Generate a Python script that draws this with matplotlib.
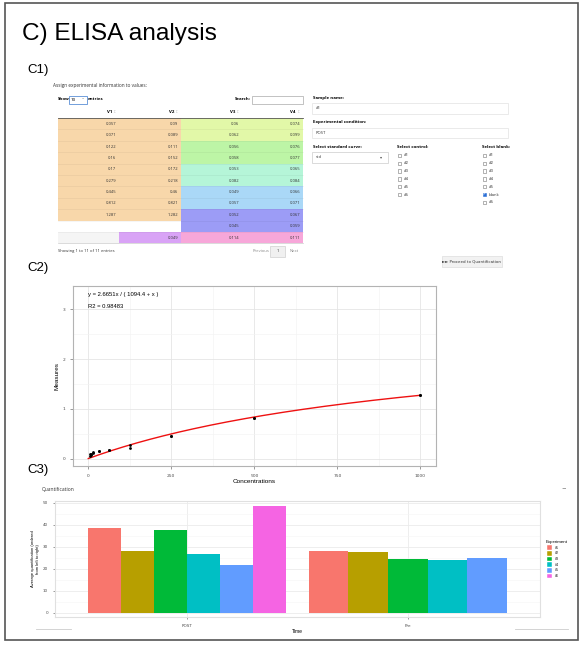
import numpy as np
import matplotlib
matplotlib.use('Agg')
import matplotlib.pyplot as plt
from matplotlib.patches import Rectangle

# ---- data ----
# C1 table (rows of the plate), None = empty cell
v1 = [0.057, 0.071, 0.122, 0.16, 0.17, 0.279, 0.445, 0.812, 1.287, None, None]
v2 = [0.09, 0.089, 0.111, 0.152, 0.172, 0.218, 0.46, 0.821, 1.282, None, 0.049]
v3 = [0.06, 0.062, 0.056, 0.058, 0.053, 0.082, 0.049, 0.057, 0.052, 0.045, 0.114]
v4 = [0.074, 0.099, 0.076, 0.077, 0.065, 0.084, 0.066, 0.071, 0.067, 0.059, 0.111]
controls = ['#1', '#2', '#3', '#4', '#5', '#6']
blanks = ['#1', '#2', '#3', '#4', '#5', 'blank', '#6']

# C2 standard curve
concentrations = [3.9, 7.8, 15.6, 31.25, 62.5, 125, 250, 500, 1000]
fit_a, fit_b = 2.6651, 1094.4
r2 = 0.98483

# C3 quantification
times = ['POST', 'Pre']
experiments = ['#1', '#2', '#3', '#4', '#5', '#6']
post_vals = [38.5, 27.9, 37.4, 26.8, 21.8, 48.3]
pre_vals = [28.2, 27.7, 24.5, 24.1, 24.8]
exp_colors = ['#F8766D', '#B79F00', '#00BA38', '#00BFC4', '#619CFF', '#F564E3']

W, H = 584, 645
fig = plt.figure(figsize=(W / 100, H / 100), dpi=100)
bg = fig.add_axes([0, 0, 1, 1])
bg.set_xlim(0, W)
bg.set_ylim(H, 0)
bg.axis('off')

def frac(x0, y0, x1, y1):
    return [x0 / W, 1 - y1 / H, (x1 - x0) / W, (y1 - y0) / H]

ui = 'Open Sans'
gg = 'Liberation Sans'

# outer frame + headings
bg.add_patch(Rectangle((5, 3), 573, 637, fill=False, ec='#555555', lw=1.2))
bg.text(22, 34, 'C) ELISA analysis', fontsize=17.6, family=gg, va='center')
bg.text(27, 70, 'C1)', fontsize=9.5, family=gg, va='center')
bg.text(27, 268, 'C2)', fontsize=9.5, family=gg, va='center')
bg.text(27, 470, 'C3)', fontsize=9.5, family=gg, va='center')

# ---- C1: table ----
bg.text(53, 85, 'Assign experimental information to values:', fontsize=3.4, family=ui, va='center', color='#333333')
bg.text(58, 99.5, 'Show', fontsize=3.2, family=ui, weight='bold', va='center')
bg.add_patch(Rectangle((69, 96), 18, 8, fill=False, ec='#5b8fd6', lw=0.6))
bg.text(71, 100, '10', fontsize=3.2, family=ui, va='center')
bg.text(82, 100, '\u02c5', fontsize=3.2, family='DejaVu Sans', va='center', color='#555555')
bg.text(88, 99.5, 'entries', fontsize=3.2, family=ui, weight='bold', va='center')
bg.text(251, 99.5, 'Search:', fontsize=3.2, family=ui, weight='bold', va='center', ha='right')
bg.add_patch(Rectangle((252, 96), 51, 8, fill=False, ec='#aaaaaa', lw=0.5))

col_x = [58, 119, 181, 242, 303]
row_top, row_h = 118, 11.4
bg.plot([58, 303], [117.5, 117.5], color='#555555', lw=0.6)
for j, name in enumerate(['V1', 'V2', 'V3', 'V4']):
    bg.text(col_x[j + 1] - 7, 112, name, fontsize=3.2, family=ui, weight='bold', va='center', ha='right')
    bg.text(col_x[j + 1] - 3, 112, '\u2195', fontsize=3.2, family='DejaVu Sans', va='center', ha='right', color='#cccccc')

peach = '#F8D7AA'
right_cols = ['#E2F8A8', '#E2F8A8', '#BDF5A6', '#BDF5A6', '#B5F5D8', '#B5F5D8',
              '#AAD8F7', '#AAD8F7', '#9C9CF6', '#9C9CF6', '#F7A7D9']
columns = [v1, v2, v3, v4]
for i in range(len(v1)):
    y0 = row_top + i * row_h
    for j, col in enumerate(columns):
        val = col[i]
        if j < 2:
            if val is not None and i < 9:
                fc = peach
            elif i == 10 and j == 0:
                fc = '#F5F5F5'
            elif i == 10 and j == 1:
                fc = '#D9A3F6'
            else:
                fc = 'white'
        else:
            fc = right_cols[i]
        bg.add_patch(Rectangle((col_x[j], y0), col_x[j + 1] - col_x[j], row_h, fc=fc, ec='none'))
        if val is not None:
            bg.text(col_x[j + 1] - 3, y0 + row_h / 2, f'{val:g}', fontsize=3.0, family=ui,
                    va='center', ha='right', color='#333333')
    if i > 0:
        bg.plot([58, 303], [y0, y0], color='#000000', alpha=0.06, lw=0.5)
bg.plot([58, 303], [row_top + 11 * row_h, row_top + 11 * row_h], color='#cccccc', lw=0.5)

bg.text(58, 251, 'Showing 1 to 11 of 11 entries', fontsize=3.0, family=ui, va='center', color='#333333')
bg.text(261, 251, 'Previous', fontsize=3.0, family=ui, va='center', ha='center', color='#888888')
bg.add_patch(Rectangle((270, 246), 15, 11, fc='#f0f0f0', ec='#d0d0d0', lw=0.5))
bg.text(277.5, 251.5, '1', fontsize=3.0, family=ui, va='center', ha='center', color='#333333')
bg.text(294, 251, 'Next', fontsize=3.0, family=ui, va='center', ha='center', color='#888888')

# right side form
bg.text(313, 98, 'Sample name:', fontsize=3.2, family=ui, weight='bold', va='center')
bg.add_patch(Rectangle((312, 103), 196, 10.5, fill=False, ec='#e2e2e2', lw=0.5))
bg.text(316, 108.3, '#1', fontsize=3.0, family=ui, va='center', color='#333333')
bg.text(313, 122.5, 'Experimental condition:', fontsize=3.2, family=ui, weight='bold', va='center')
bg.add_patch(Rectangle((312, 127.5), 196, 10.5, fill=False, ec='#e2e2e2', lw=0.5))
bg.text(316, 132.8, 'POST', fontsize=3.0, family=ui, va='center', color='#333333')
bg.text(313, 147, 'Select standard curve:', fontsize=3.2, family=ui, weight='bold', va='center')
bg.add_patch(Rectangle((312, 152), 76, 10.5, fill=False, ec='#cccccc', lw=0.5))
bg.text(316, 157.3, 'std', fontsize=3.0, family=ui, va='center', color='#333333')
bg.text(381, 157.3, '\u25be', fontsize=3.0, family='DejaVu Sans', va='center', ha='center', color='#555555')

bg.text(397, 147, 'Select control:', fontsize=3.2, family=ui, weight='bold', va='center')
for k, lab in enumerate(controls):
    yy = 155.5 + k * 7.8
    bg.add_patch(Rectangle((397.5, yy - 1.8), 3.6, 3.6, fill=False, ec='#777777', lw=0.4))
    bg.text(404, yy, lab, fontsize=3.0, family=ui, va='center', color='#333333')

bg.text(482, 147, 'Select blank:', fontsize=3.2, family=ui, weight='bold', va='center')
for k, lab in enumerate(blanks):
    yy = 155.5 + k * 7.8
    if lab == 'blank':
        bg.add_patch(Rectangle((482.5, yy - 1.8), 3.6, 3.6, fc='#2a6fd6', ec='#2a6fd6', lw=0.4))
        bg.text(484.3, yy, '\u2713', fontsize=2.6, family='DejaVu Sans', va='center', ha='center', color='white')
    else:
        bg.add_patch(Rectangle((482.5, yy - 1.8), 3.6, 3.6, fill=False, ec='#777777', lw=0.4))
    bg.text(489, yy, lab, fontsize=3.0, family=ui, va='center', color='#333333')

bg.add_patch(Rectangle((442, 256), 60, 11, fc='#f2f2f2', ec='#dddddd', lw=0.5))
bg.text(472, 261.5, '\u25ba\u25ba Proceed to Quantification', fontsize=2.9, family=['DejaVu Sans'],
        va='center', ha='center', color='#333333')

# ---- C2: standard curve ----
ax = fig.add_axes(frac(73, 286, 436, 466))
xs = np.array(concentrations)
ax.scatter(xs, v1[:9], s=4, color='black', zorder=3, lw=0)
ax.scatter(xs, v2[:9], s=4, color='black', zorder=3, lw=0)
xf = np.linspace(0, 1000, 200)
ax.plot(xf, fit_a * xf / (fit_b + xf), color='#ee1111', lw=1.0, zorder=2)
ax.set_xlim(-46, 1047)
ax.set_ylim(-0.15, 3.47)
ax.set_xticks([0, 250, 500, 750, 1000])
ax.set_yticks([0, 1, 2, 3])
ax.set_xticks([125, 375, 625, 875], minor=True)
ax.set_yticks([0.5, 1.5, 2.5], minor=True)
ax.tick_params(which='minor', length=0)
ax.tick_params(labelsize=3.2, colors='#4d4d4d', length=2, width=0.4)
ax.grid(which='major', color='#e5e5e5', lw=0.6)
ax.grid(which='minor', color='#f2f2f2', lw=0.4)
ax.set_axisbelow(True)
for s in ax.spines.values():
    s.set_color('#b3b3b3')
    s.set_linewidth(0.8)
ax.set_xlabel('Concentrations', fontsize=4.6, family=gg, labelpad=1)
ax.set_ylabel('Measures', fontsize=4.6, family=gg, labelpad=2)
ax.text(0, 3.3, f'y = {fit_a}x / ( {fit_b} + x )', fontsize=4.2, family=gg, va='center')
ax.text(0, 3.05, f'R2 = {r2}', fontsize=4.2, family=gg, va='center')

# ---- C3: quantification ----
bg.text(42, 489.5, 'Quantification', fontsize=3.6, family=ui, va='center', color='#333333')
bg.text(564, 488, '\u2212', fontsize=4, family='DejaVu Sans', va='center', ha='center', color='#777777')
bg.plot([36, 71], [628.5, 628.5], color='#cccccc', lw=0.6)
bg.plot([515, 568], [628.5, 628.5], color='#cccccc', lw=0.6)

bx = fig.add_axes(frac(55, 501, 540, 617))
groups = [post_vals, pre_vals]
for g, vals in enumerate(groups):
    n = len(vals)
    w = 0.9 / n
    for k, v in enumerate(vals):
        xc = g + 1 - 0.45 + w * (k + 0.5)
        bx.bar(xc, v, width=w, color=exp_colors[k], zorder=2)
bx.set_xlim(0.4, 2.6)
bx.set_ylim(-2, 50.7)
bx.set_xticks([1, 2])
bx.set_xticklabels(times)
bx.set_yticks([0, 10, 20, 30, 40, 50])
bx.set_yticks([5, 15, 25, 35, 45], minor=True)
bx.tick_params(which='minor', length=0)
bx.tick_params(labelsize=3.0, colors='#4d4d4d', length=1.5, width=0.4)
bx.grid(which='major', color='#ebebeb', lw=0.6)
bx.grid(which='minor', color='#f5f5f5', lw=0.4)
bx.set_axisbelow(True)
for s in bx.spines.values():
    s.set_color('#e0e0e0')
    s.set_linewidth(0.8)
bx.set_xlabel('Time', fontsize=3.6, family=gg, labelpad=1)
bx.set_ylabel('Average quantification (ordered\nfrom left to right)', fontsize=3.0, family=gg, labelpad=2)

bg.text(546, 542, 'Experiment', fontsize=3.2, family=gg, va='center')
for k, lab in enumerate(experiments):
    yy = 547.8 + k * 5.65
    bg.add_patch(Rectangle((546.7, yy - 2.4), 5, 4.8, fc=exp_colors[k], ec='white', lw=0.3))
    bg.text(555, yy, lab, fontsize=2.6, family=gg, va='center')

fig.savefig('out.png', dpi=100)
